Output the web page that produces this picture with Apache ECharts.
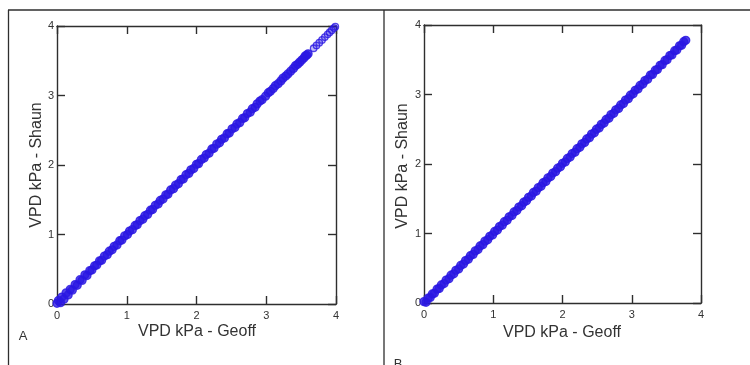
<!DOCTYPE html>
<html>
<head>
<meta charset="utf-8">
<title>VPD comparison</title>
<script src="https://cdn.jsdelivr.net/npm/echarts@6/dist/echarts.min.js"></script>
<style>
  html, body { margin: 0; padding: 0; background: #fff; }
  #chart { width: 750px; height: 365px; }
</style>
</head>
<body>
<div id="chart"></div>
<script>
// Panel A: VPD (kPa) computed by Geoff (x) vs Shaun (y)
var geoffA = [0.00,0.02,0.05,0.07,0.10,0.13,0.16,0.19,0.22,0.26,0.29,0.33,0.36,0.40,0.43,0.47,0.50,0.54,0.57,0.61,
  0.64,0.68,0.72,0.75,0.79,0.82,0.86,0.90,0.93,0.97,1.01,1.04,1.08,1.12,1.15,1.19,1.23,1.26,1.30,1.34,
  1.37,1.41,1.45,1.48,1.52,1.56,1.59,1.63,1.67,1.70,1.74,1.78,1.81,1.85,1.89,1.92,1.96,2.00,2.03,2.07,
  2.11,2.14,2.18,2.22,2.25,2.29,2.33,2.36,2.40,2.44,2.47,2.51,2.55,2.58,2.62,2.66,2.69,2.73,2.77,2.80,
  2.84,2.87,2.91,2.94,2.99,3.03,3.06,3.10,3.13,3.17,3.21,3.24,3.28,3.31,3.35,3.39,3.42,3.45,3.48,3.51,
  3.54,3.56,3.58,3.60,3.68,3.72,3.76,3.80,3.84,3.88,3.91,3.94,3.97,3.99];
var shaunA = [0.01,0.05,0.02,0.10,0.07,0.16,0.13,0.21,0.20,0.28,0.27,0.35,0.34,0.42,0.41,0.48,0.49,0.55,0.56,0.62,
  0.63,0.69,0.71,0.76,0.78,0.83,0.85,0.91,0.92,0.98,1.00,1.05,1.07,1.13,1.14,1.20,1.22,1.27,1.29,1.35,
  1.36,1.42,1.44,1.49,1.51,1.57,1.58,1.64,1.66,1.71,1.73,1.79,1.80,1.86,1.88,1.93,1.95,2.01,2.02,2.08,
  2.10,2.15,2.17,2.23,2.24,2.30,2.32,2.37,2.39,2.45,2.46,2.52,2.54,2.59,2.61,2.67,2.68,2.74,2.76,2.81,
  2.83,2.88,2.92,2.94,2.99,3.04,3.06,3.10,3.14,3.17,3.21,3.25,3.28,3.31,3.35,3.39,3.43,3.45,3.48,3.51,
  3.54,3.57,3.58,3.60,3.68,3.72,3.76,3.80,3.84,3.88,3.91,3.94,3.97,3.99];

// Panel B: second period, same comparison
var geoffB = [0.00,0.03,0.06,0.09,0.12,0.15,0.19,0.22,0.25,0.29,0.32,0.36,0.39,0.43,0.46,0.50,0.53,0.57,0.60,0.64,
  0.67,0.71,0.74,0.78,0.81,0.85,0.88,0.92,0.95,0.99,1.02,1.06,1.09,1.13,1.16,1.20,1.23,1.27,1.30,1.34,
  1.37,1.41,1.44,1.48,1.51,1.55,1.58,1.62,1.65,1.69,1.72,1.76,1.79,1.83,1.86,1.90,1.93,1.97,2.00,2.04,
  2.07,2.11,2.14,2.18,2.21,2.25,2.28,2.32,2.35,2.39,2.42,2.46,2.49,2.53,2.56,2.60,2.63,2.67,2.70,2.74,
  2.77,2.81,2.84,2.88,2.91,2.95,2.98,3.02,3.05,3.09,3.12,3.16,3.19,3.23,3.27,3.30,3.34,3.37,3.41,3.44,
  3.48,3.51,3.55,3.58,3.62,3.65,3.69,3.72,3.75,3.78];
var shaunB = [0.02,0.01,0.07,0.08,0.13,0.14,0.20,0.21,0.26,0.28,0.33,0.35,0.40,0.42,0.47,0.49,0.54,0.56,0.61,0.63,
  0.68,0.70,0.75,0.77,0.82,0.84,0.89,0.91,0.96,0.98,1.03,1.05,1.10,1.12,1.17,1.19,1.24,1.26,1.31,1.33,
  1.38,1.40,1.45,1.47,1.52,1.54,1.59,1.61,1.66,1.68,1.73,1.75,1.80,1.82,1.87,1.89,1.94,1.96,2.01,2.03,
  2.08,2.10,2.15,2.17,2.22,2.24,2.29,2.31,2.36,2.38,2.43,2.45,2.50,2.52,2.57,2.59,2.64,2.66,2.71,2.73,
  2.78,2.80,2.85,2.87,2.92,2.94,2.99,3.01,3.06,3.08,3.13,3.15,3.20,3.22,3.28,3.29,3.35,3.36,3.42,3.43,
  3.49,3.50,3.56,3.57,3.63,3.64,3.70,3.71,3.76,3.78];

var tickValues = ['0', '1', '2', '3', '4'];
var xTitle = 'VPD kPa - Geoff';
var yTitle = 'VPD kPa - Shaun';
var panelLabels = ['A', 'B'];

var AX = '#2e2e2e';
var BLUE = '#2b18e2';
var FONT = '"Liberation Sans", Arial, sans-serif';

// Where panel A's readings thin out, draw open rings instead of solid dots
var SPARSE_FROM = 3.62;
var ringStyle = { color: 'rgba(43,24,226,0.35)', borderColor: BLUE, borderWidth: 1.3 };

function pairs(xs, ys, sparseFrom) {
  return xs.map(function (x, i) {
    if (sparseFrom != null && x >= sparseFrom) {
      return { value: [x, ys[i]], symbolSize: 6.5, itemStyle: ringStyle };
    }
    return [x, ys[i]];
  });
}

var grids = [
  { left: 57, top: 26, width: 279, height: 278 },
  { left: 424, top: 25, width: 277, height: 278 }
];

function valueAxis(gridIndex, position, showLabel) {
  return {
    type: 'value', gridIndex: gridIndex, position: position,
    min: 0, max: 4, interval: 1,
    axisLine: { show: true, onZero: false, lineStyle: { color: AX, width: 1.4 } },
    axisTick: { show: true, inside: true, length: 8, lineStyle: { color: AX, width: 1.4 } },
    splitLine: { show: false },
    axisLabel: {
      show: showLabel, color: '#333', fontSize: 11, fontFamily: FONT,
      margin: (position === 'bottom') ? 6 : 3,
      formatter: function (v) { return tickValues[Math.round(v)]; }
    }
  };
}

var xAxes = [], yAxes = [];
for (var g = 0; g < 2; g++) {
  xAxes.push(valueAxis(g, 'bottom', true));
  xAxes.push(valueAxis(g, 'top', false));
  yAxes.push(valueAxis(g, 'left', true));
  yAxes.push(valueAxis(g, 'right', false));
}

var markerStyle = {
  color: BLUE,
  borderColor: BLUE,
  borderWidth: 1.3
};

var series = [
  { type: 'scatter', xAxisIndex: 0, yAxisIndex: 0, data: pairs(geoffA, shaunA, SPARSE_FROM),
    symbol: 'circle', symbolSize: 8, itemStyle: markerStyle, silent: true, animation: false },
  { type: 'scatter', xAxisIndex: 2, yAxisIndex: 2, data: pairs(geoffB, shaunB, null),
    symbol: 'circle', symbolSize: 8, itemStyle: markerStyle, silent: true, animation: false }
];

function titleText(x, y, text, rotate) {
  return {
    type: 'text', x: x, y: y, rotation: rotate ? Math.PI / 2 : 0,
    style: { text: text, fill: '#333', font: '16px ' + FONT, align: 'center', verticalAlign: 'middle' }
  };
}

var frame = { stroke: '#2e2e2e', lineWidth: 1.3 };
var graphics = [
  { type: 'line', shape: { x1: 8, y1: 10, x2: 750, y2: 10 }, style: frame },
  { type: 'line', shape: { x1: 8.5, y1: 10, x2: 8.5, y2: 365 }, style: frame },
  { type: 'line', shape: { x1: 384, y1: 10, x2: 384, y2: 365 }, style: frame },
  titleText(197, 332, xTitle, false),
  titleText(37, 165, yTitle, true),
  titleText(562, 333, xTitle, false),
  titleText(403, 166, yTitle, true),
  { type: 'text', x: 23, y: 336, style: { text: panelLabels[0], fill: '#333', font: '13px ' + FONT, align: 'center', verticalAlign: 'middle' } },
  { type: 'text', x: 398, y: 364, style: { text: panelLabels[1], fill: '#333', font: '13px ' + FONT, align: 'center', verticalAlign: 'middle' } }
];

var chart = echarts.init(document.getElementById('chart'), null, { renderer: 'canvas' });
chart.setOption({
  animation: false,
  backgroundColor: '#fff',
  grid: grids.map(function (gr) {
    return Object.assign({ containLabel: false, outerBoundsMode: 'none' }, gr);
  }),
  xAxis: xAxes,
  yAxis: yAxes,
  series: series,
  graphic: graphics
});
</script>
</body>
</html>
